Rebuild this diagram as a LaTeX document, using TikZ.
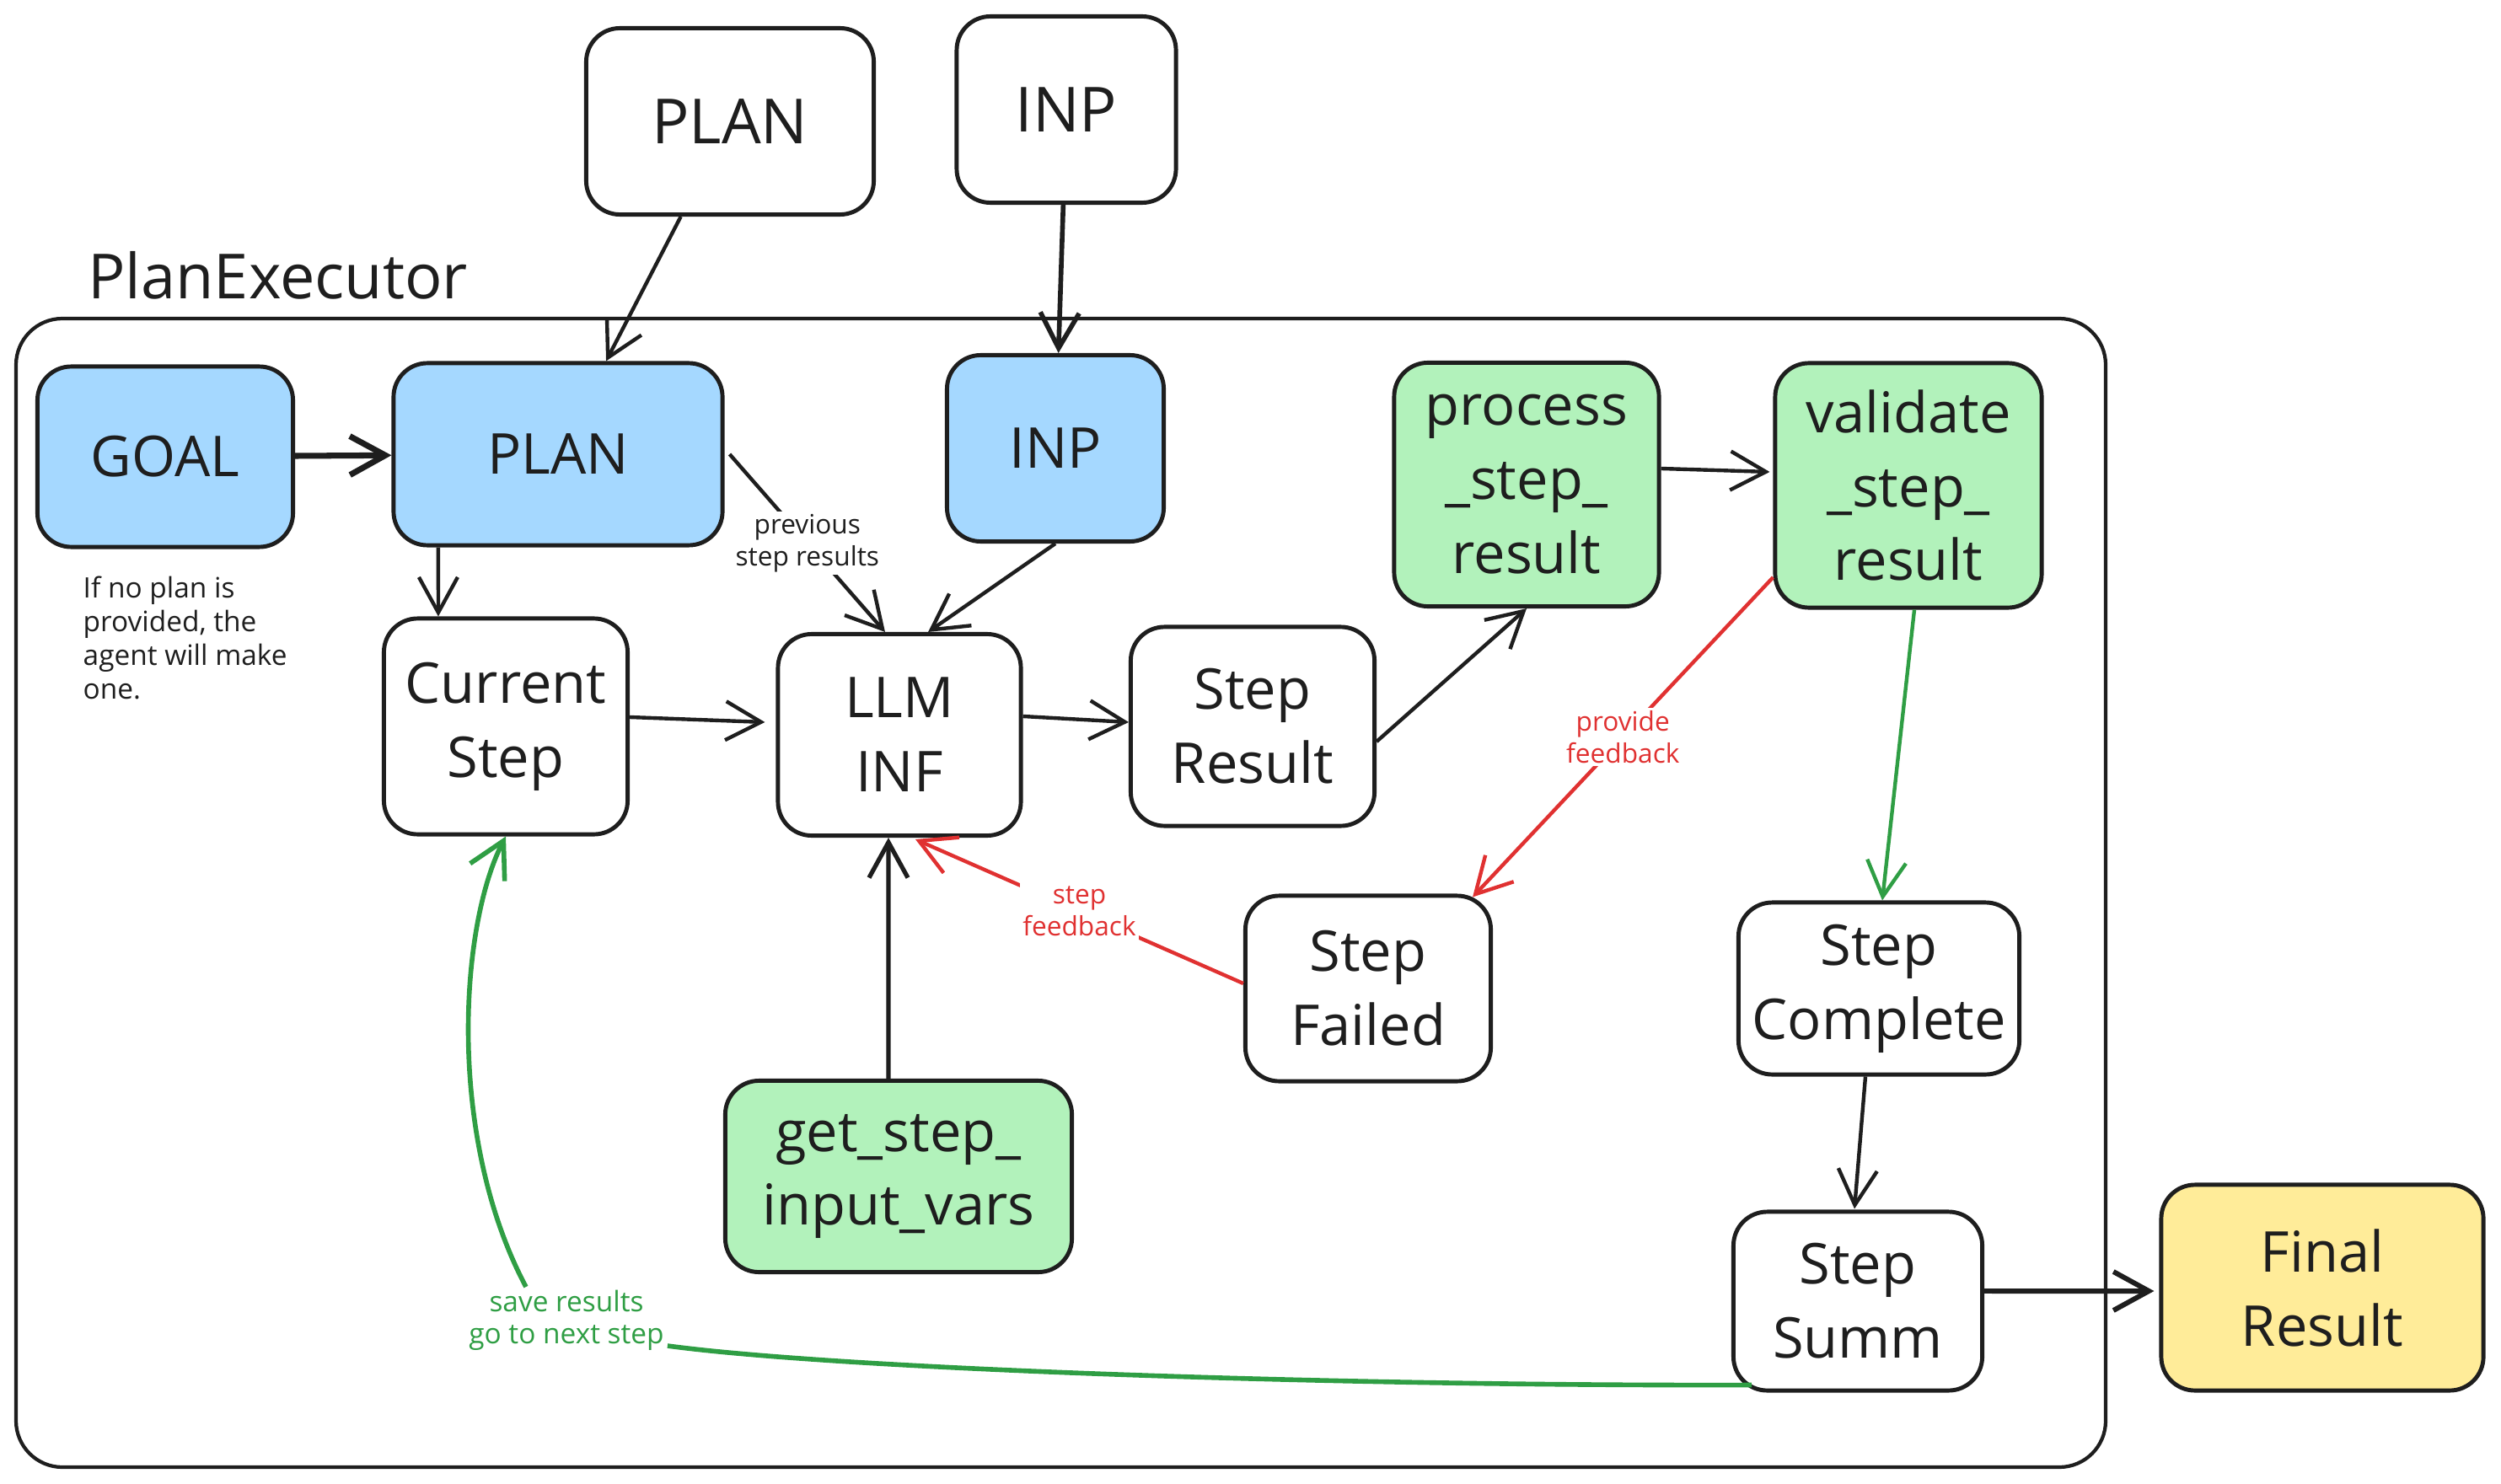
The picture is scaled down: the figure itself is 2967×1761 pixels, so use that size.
\documentclass[tikz,border=0pt]{standalone}
\usepackage{fontspec}
\setmainfont{Open Sans}
\usetikzlibrary{arrows.meta}

\definecolor{inkc}{HTML}{1E1E1E}
\definecolor{bluef}{HTML}{A5D8FF}
\definecolor{greenf}{HTML}{B2F2BB}
\definecolor{yellowf}{HTML}{FFEC99}
\definecolor{redl}{HTML}{E03131}
\definecolor{greenl}{HTML}{2F9E44}

\begin{document}
\begin{tikzpicture}[x=0.01cm, y=-0.01cm,
  box/.style={draw=inkc, line width=1.4pt, rounded corners=0.4cm, align=center,
    text=inkc, inner sep=2pt, font=\fontsize{19}{25}\selectfont},
  arr/.style={draw=inkc, line width=1.25pt, -{Straight Barb[length=0.42cm,width=0.46cm]}},
  lbl/.style={fill=white, inner sep=1pt, align=center, font=\fontsize{9}{10.8}\selectfont}]

\useasboundingbox (0,0) rectangle (2967,1761);

% executor frame
\draw[draw=inkc, line width=1.2pt, rounded corners=0.55cm] (19,378) rectangle (2498,1741);
\node [anchor=west, text=inkc, font=\fontsize{21}{25}\selectfont] (title) at (92,327) {PlanExecutor};

% inputs
\node [box, minimum width=3.41cm, minimum height=2.21cm, font=\fontsize{21}{25}\selectfont] (planin) at (866,144) {PLAN};
\node [box, minimum width=2.6cm, minimum height=2.21cm, font=\fontsize{21}{25}\selectfont] (inpin) at (1265,130) {INP};

% top row
\node [box, fill=bluef, minimum width=3.03cm, minimum height=2.14cm] (goal) at (196,542) {GOAL};
\node [box, fill=bluef, minimum width=3.9cm, minimum height=2.16cm] (plan) at (662,539) {PLAN};
\node [box, fill=bluef, minimum width=2.57cm, minimum height=2.21cm] (inp) at (1252,532) {INP};
\node [box, fill=greenf, minimum width=3.14cm, minimum height=2.89cm] (procres) at (1811,575) {process\\\_step\_\\result};
\node [box, fill=greenf, minimum width=3.16cm, minimum height=2.9cm] (valres) at (2264,576) {validate\\\_step\_\\result};

\node [anchor=west, align=left, inner sep=0pt, text=inkc, font=\fontsize{9.5}{11.4}\selectfont] (note) at (98,757)
  {If no plan is\\provided, the\\agent will make\\one.};

% middle row
\node [box, minimum width=2.89cm, minimum height=2.56cm] (curstep) at (600,862) {Current\\Step};
\node [box, minimum width=2.88cm, minimum height=2.39cm] (llminf) at (1067,872) {LLM\\INF};
\node [box, minimum width=2.89cm, minimum height=2.36cm] (stepres) at (1486,862) {Step\\Result};
\node [box, minimum width=2.91cm, minimum height=2.2cm] (stepfail) at (1623,1173) {Step\\Failed};
\node [box, minimum width=3.33cm, minimum height=2.04cm] (stepcomp) at (2229,1173) {Step\\Complete};

% bottom row
\node [box, fill=greenf, minimum width=4.11cm, minimum height=2.27cm] (getvars) at (1066,1396) {get\_step\_\\input\_vars};
\node [box, minimum width=2.95cm, minimum height=2.12cm] (stepsumm) at (2204,1544) {Step\\Summ};
\node [box, fill=yellowf, minimum width=3.82cm, minimum height=2.44cm] (finalres) at (2755,1528) {Final\\Result};

% connectors
\draw[arr] (planin) -- (plan);
\draw[arr, line width=1.6pt] (inpin) -- (inp);
\draw[arr, line width=2pt] (goal) -- (plan);
\draw[arr] ([xshift=-1.42cm]plan.south) -- ([xshift=-0.8cm]curstep.north);
\draw[arr] ([xshift=0.06cm]plan.east) -- node[lbl, text=inkc] {previous\\step results} ([xshift=-0.17cm]llminf.north);
\draw[arr] (inp.south) -- ([xshift=0.34cm]llminf.north);
\draw[arr] ([yshift=0.11cm]curstep.east) -- ([xshift=-0.13cm,yshift=0.15cm]llminf.west);
\draw[arr] ([yshift=0.22cm]llminf.east) -- ([yshift=0.05cm]stepres.west);
\draw[arr] ([yshift=-0.18cm]stepres.east) -- (procres.south);
\draw[arr] ([yshift=0.19cm]procres.east) -- ([xshift=-0.04cm,yshift=0.16cm]valres.west);
\draw[arr, draw=redl] ([yshift=-1.09cm]valres.west) -- node[lbl, text=redl] {provide\\feedback} ([xshift=-0.24cm,yshift=-0.04cm]stepfail.north east);
\draw[arr, draw=greenl] ([xshift=0.07cm]valres.south) -- ([xshift=0.04cm]stepcomp.north);
\draw[arr, draw=redl] ([yshift=0.06cm]stepfail.west) -- node[lbl, text=redl] {step\\feedback} ([xshift=0.19cm,yshift=-0.02cm]llminf.south);
\draw[arr, line width=1.5pt] ([xshift=-0.12cm]getvars.north) -- ([xshift=-0.13cm]llminf.south);
\draw[arr] ([xshift=-0.16cm]stepcomp.south) -- ([xshift=-0.04cm,yshift=0.01cm]stepsumm.north);
\draw[arr, line width=1.7pt] ([yshift=0.12cm]stepsumm.east) -- ([xshift=-0.06cm,yshift=-0.04cm]finalres.west);

% loop back to the current step
\node [lbl, text=greenl, font=\fontsize{9.5}{10.8}\selectfont] (savelbl) at (672,1567) {save results\\go to next step};
\draw[draw=greenl, line width=1.6pt] ([xshift=0.24cm,yshift=0.09cm]stepsumm.south west)
  .. controls (1600,1645) and (1000,1625) .. ([yshift=-0.3cm]savelbl.east);
\draw[arr, draw=greenl, line width=1.6pt] ([xshift=-0.48cm]savelbl.north)
  .. controls (530,1350) and (545,1100) .. (curstep.south);

\end{tikzpicture}
\end{document}
